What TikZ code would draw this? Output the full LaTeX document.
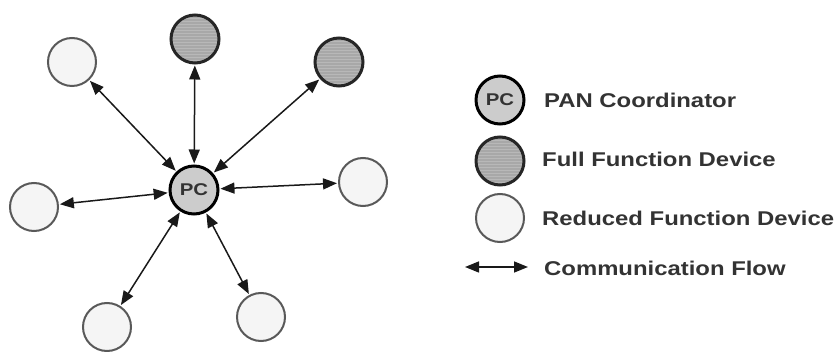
\documentclass[tikz,border=0pt]{standalone}
\usepackage{fontspec}
\setmainfont{Liberation Sans}[FakeStretch=1.2]
\usetikzlibrary{arrows.meta}
\tikzset{
  dev/.style={circle, minimum size=48pt, inner sep=0pt},
  pcnode/.style={dev, draw=black, line width=3pt, fill=gray!40, font=\bfseries\fontsize{17}{17}\selectfont, text=black!80},
  ffd/.style={dev, draw=black!85, line width=3pt, fill=gray!68,
    path picture={\foreach \k in {-30,-27,...,30}{\draw[gray!56, line width=0.5pt] ([yshift=\k pt]path picture bounding box.west) -- ([yshift=\k pt]path picture bounding box.east);}}},
  rfd/.style={dev, draw=black!65, line width=2pt, fill=black!4},
  tipshape/.style={>={Triangle[length=14pt,width=11pt]}},
  flow/.style={tipshape, <->, line width=1.5pt, black!90, shorten <=1pt, shorten >=1pt},
  lab/.style={anchor=west, font=\bfseries\fontsize{19.9}{21}\selectfont, text=black!80, inner sep=0pt}
}
\begin{document}
\begin{tikzpicture}[x=1pt,y=-1pt]
\useasboundingbox (0,0) rectangle (837,352);
% network
\node[pcnode] (pc) at (194,190) {PC};
\node[ffd] (f1) at (195,39) {};
\node[ffd] (f2) at (339,62) {};
\node[rfd] (r1) at (72,62) {};
\node[rfd] (r2) at (34,207) {};
\node[rfd] (r3) at (363,182) {};
\node[rfd] (r4) at (107,327) {};
\node[rfd] (r5) at (261,317) {};
\foreach \n in {f1,f2,r1,r2,r3,r4,r5}{\draw[flow] (pc) -- (\n);}
% legend
\node[pcnode] (lpc) at (500,100) {PC};
\node[ffd] (lffd) at (500,161) {};
\node[rfd] (lrfd) at (500,218) {};
\coordinate (la) at (465,267);
\coordinate (lb) at (528,267);
\draw[flow, shorten <=0pt, shorten >=0pt] (la) -- (lb);
\node[lab] (t1) at (544,100) {PAN Coordinator};
\node[lab] (t2) at (542,159) {Full Function Device};
\node[lab] (t3) at (542,218) {Reduced Function Device};
\node[lab] (t4) at (544,268) {Communication Flow};
\end{tikzpicture}
\end{document}
